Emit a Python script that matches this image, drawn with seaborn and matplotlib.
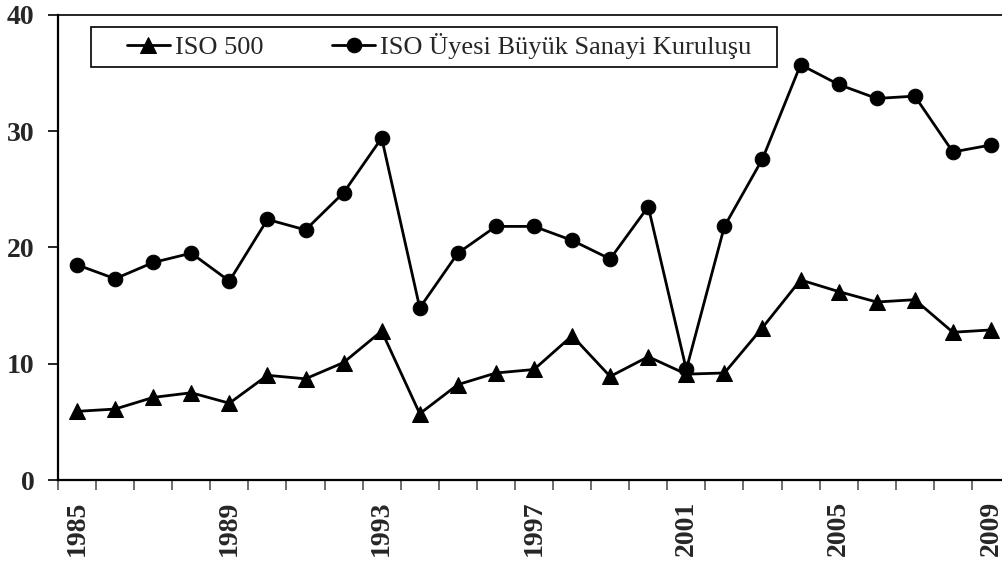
"""
ISO 500 vs ISO member large industrial firms, 1985-2009 line chart.
"""

import matplotlib
matplotlib.use("Agg")
import matplotlib.pyplot as plt
import numpy as np
import pandas as pd
import seaborn as sns
from matplotlib.patches import Rectangle
from matplotlib.ticker import FixedLocator

YEARS = list(range(1985, 2010))
ISO_500 = [5.9, 6.1, 7.1, 7.5, 6.6, 9.0, 8.7, 10.1, 12.8, 5.7,
           8.2, 9.2, 9.5, 12.4, 8.9, 10.6, 9.1, 9.2, 13.1, 17.2,
           16.2, 15.3, 15.5, 12.7, 12.9]
ISO_UYE = [18.5, 17.3, 18.7, 19.5, 17.1, 22.4, 21.5, 24.7, 29.4, 14.8,
           19.5, 21.8, 21.8, 20.6, 19.0, 23.5, 9.5, 21.8, 27.6, 35.7,
           34.0, 32.8, 33.0, 28.2, 28.8]
SERIES_NAMES = ["ISO 500", "ISO Üyesi Büyük Sanayi Kuruluşu"]
LABEL_YEARS = [1985, 1989, 1993, 1997, 2001, 2005, 2009]
Y_TICKS = [0, 10, 20, 30, 40]

sns.set_theme(style="white")
plt.rcParams["font.family"] = ["Liberation Serif", "DejaVu Serif"]

df = pd.DataFrame({"year": YEARS, SERIES_NAMES[0]: ISO_500, SERIES_NAMES[1]: ISO_UYE})

fig = plt.figure(figsize=(10.03, 5.63), dpi=100)
ax = fig.add_axes([58 / 1003, 83 / 563, 952 / 1003, 465.3 / 563])

sns.lineplot(data=df, x="year", y=SERIES_NAMES[0], ax=ax, color="black", linewidth=2.0,
             marker="^", markersize=11, markeredgecolor="black", label=SERIES_NAMES[0])
sns.lineplot(data=df, x="year", y=SERIES_NAMES[1], ax=ax, color="black", linewidth=2.0,
             marker="o", markersize=10.5, markeredgecolor="black", label=SERIES_NAMES[1])

ax.set_xlim(YEARS[0] - 0.5, YEARS[-1] + 0.5)
ax.set_ylim(0, 40)
ax.set_xlabel("")
ax.set_ylabel("")

ax.set_yticks(Y_TICKS)
ax.set_yticklabels([str(t) for t in Y_TICKS], fontsize=20, fontweight="bold")
ax.tick_params(axis="y", which="major", direction="out", length=7, width=1.2, pad=10,
               color="black", left=True)

ax.set_xticks(LABEL_YEARS)
ax.set_xticklabels([str(y) for y in LABEL_YEARS], rotation=90, fontsize=20, fontweight="bold")
ax.xaxis.set_minor_locator(FixedLocator(np.arange(YEARS[0] - 0.5, YEARS[-1] + 1.0, 1.0)))
ax.tick_params(axis="x", which="major", length=0, pad=15)
ax.tick_params(axis="x", which="minor", direction="out", length=7, width=1.2,
               color="#555555", bottom=True)

for side in ["left", "bottom"]:
    ax.spines[side].set_color("black")
    ax.spines[side].set_linewidth(1.6)
ax.spines["top"].set_color("black")
ax.spines["top"].set_linewidth(1.2)
ax.spines["right"].set_visible(False)

# legend box is wider than matplotlib's padding allows, so draw the frame by hand
ax.legend(loc="upper left", bbox_to_anchor=(0.0725, 0.960), ncol=2, frameon=False,
          fontsize=19, handlelength=1.62, handletextpad=0.2, columnspacing=2.6,
          borderpad=0, borderaxespad=0)
ax.add_patch(Rectangle((0.0347, 0.8876), 0.7206, 0.0859, transform=ax.transAxes,
                       fill=False, edgecolor="black", linewidth=1.2, zorder=5))

plt.savefig("out.png", dpi=100)
plt.close()
